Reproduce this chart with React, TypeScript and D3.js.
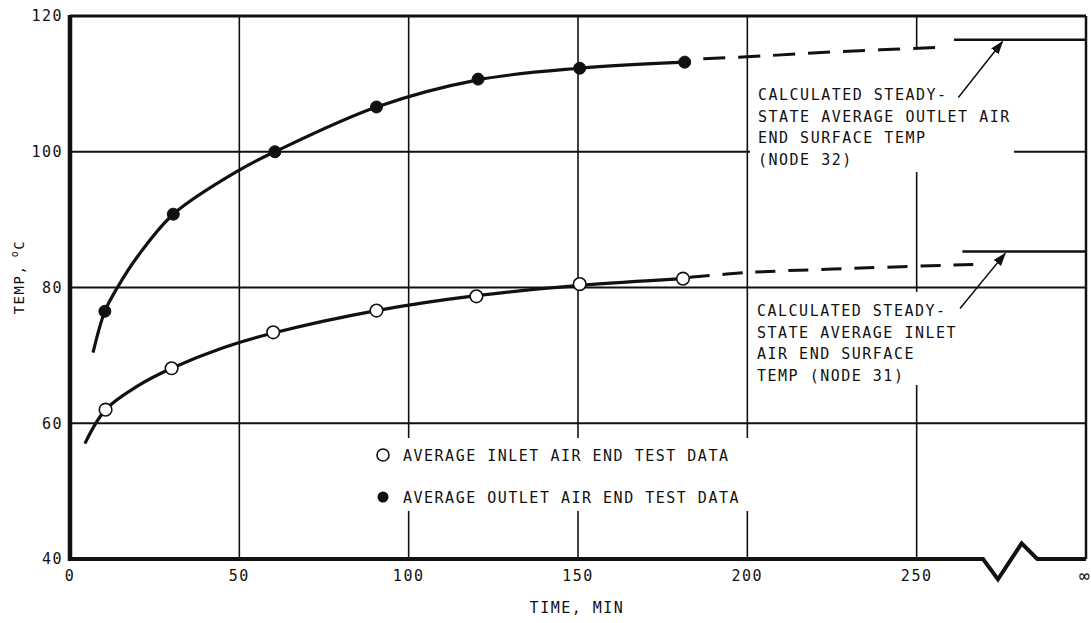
import * as d3 from 'd3';

// test data (time in min, temperature in °C)
const inletTimes = [10.5, 30, 60, 90.5, 120, 150.5, 181];
const inletTemps = [62.0, 68.1, 73.4, 76.6, 78.7, 80.5, 81.3];
const outletTimes = [10.3, 30.5, 60.5, 90.5, 120.5, 150.5, 181.5];
const outletTemps = [76.5, 90.8, 100.0, 106.6, 110.7, 112.3, 113.2];

// hand-drawn fit curves (knots)
const inletCurveT = [4.4, 10.5, 20, 30, 45, 60, 90.5, 120, 150.5, 181];
const inletCurveV = [57.0, 62.0, 65.5, 68.1, 71.1, 73.3, 76.6, 78.8, 80.3, 81.3];
const outletCurveT = [6.8, 10.3, 14, 20, 30.5, 50, 60.5, 90.5, 120.5, 150.5, 181.5];
const outletCurveV = [70.4, 76.5, 80.0, 84.6, 90.8, 97.3, 100.0, 106.6, 110.6, 112.3, 113.2];

// dashed extrapolation towards steady state
const inletExtT = [183, 200, 230, 266.7];
const inletExtV = [81.5, 82.2, 82.8, 83.4];
const outletExtT = [187, 204, 225, 257.5];
const outletExtV = [113.7, 114.1, 114.7, 115.4];

// calculated steady-state values
const outletSteady = { from: 261, to: 300, value: 116.5 };
const inletSteady = { from: 263.5, to: 300, value: 85.3 };

const xTicks = [0, 50, 100, 150, 200, 250];
const yTicks = [40, 60, 80, 100, 120];
const xGrid = [50, 100, 150, 200, 250];
const yGrid = [60, 80, 100];

// axis break (time, temp)
const breakT = [0, 269.6, 274, 281, 285.6, 300];
const breakV = [40, 40, 37.0, 42.3, 40, 40];

const outletNote = ['CALCULATED STEADY-', 'STATE AVERAGE OUTLET AIR', 'END SURFACE TEMP', '(NODE 32)'];
const inletNote = ['CALCULATED STEADY-', 'STATE AVERAGE INLET', 'AIR END SURFACE', 'TEMP (NODE 31)'];
const legendLabels = ['AVERAGE INLET AIR END TEST DATA', 'AVERAGE OUTLET AIR END TEST DATA'];

const W = 1091;
const H = 623;
const FONT = '"DejaVu Sans Mono", monospace';
const INK = '#111';

export default function App() {
  const x = d3.scaleLinear().domain([0, 300]).range([70, 1086]);
  const y = d3.scaleLinear().domain([40, 120]).range([559, 16]);

  const line = d3.line<[number, number]>()
    .x(d => x(d[0]))
    .y(d => y(d[1]))
    .curve(d3.curveCatmullRom.alpha(0.5));
  const straight = d3.line<[number, number]>().x(d => x(d[0])).y(d => y(d[1]));

  const zip = (a: number[], b: number[]) => a.map((v, i) => [v, b[i]] as [number, number]);

  const textStyle = { fontFamily: FONT, fontSize: 15, fill: INK, letterSpacing: 1.5 };

  return (
    <div style={{ position: 'fixed', left: 0, top: 0, background: '#fff' }}>
      <svg width={W} height={H} viewBox={`0 0 ${W} ${H}`}>
        <defs>
          <marker id="arrow" viewBox="0 0 10 10" refX="9" refY="5" markerWidth="9" markerHeight="9" orient="auto">
            <path d="M0,1.5 L10,5 L0,8.5 Z" fill={INK} />
          </marker>
        </defs>
        <rect width={W} height={H} fill="#fff" />

        {/* grid */}
        {xGrid.map(t => (
          <line key={'gx' + t} x1={x(t)} x2={x(t)} y1={y(120)} y2={y(40)} stroke={INK} strokeWidth={1.6} />
        ))}
        {yGrid.map(v => (
          <line key={'gy' + v} x1={x(0)} x2={x(300)} y1={y(v)} y2={y(v)} stroke={INK} strokeWidth={1.8} />
        ))}

        {/* white backgrounds behind notes and legend */}
        <rect x={750} y={48} width={264} height={124} fill="#fff" />
        <rect x={750} y={292} width={250} height={93} fill="#fff" />
        <rect x={372} y={438} width={388} height={73} fill="#fff" />

        {/* frame */}
        <line x1={x(0)} x2={x(300)} y1={y(120)} y2={y(120)} stroke={INK} strokeWidth={3} />
        <line x1={x(300)} x2={x(300)} y1={y(120)} y2={y(40)} stroke={INK} strokeWidth={2.5} />
        <line x1={x(0)} x2={x(0)} y1={y(120) - 1} y2={y(40) + 2} stroke={INK} strokeWidth={4.5} />
        <path d={straight(zip(breakT, breakV)) || ''} fill="none" stroke={INK} strokeWidth={4} strokeLinejoin="miter" />

        {/* tick labels */}
        {yTicks.map(v => (
          <text key={'yt' + v} x={63} y={y(v)} dy="0.36em" textAnchor="end" style={textStyle}>{v}</text>
        ))}
        {xTicks.map(t => (
          <text key={'xt' + t} x={x(t)} y={576} dy="0.36em" textAnchor="middle" style={textStyle}>{t}</text>
        ))}
        <text x={1079} y={576} dy="0.36em" style={{ ...textStyle, fontSize: 18 }}>∞</text>

        {/* axis titles */}
        <text x={577} y={608} dy="0.36em" textAnchor="middle" style={textStyle}>TIME, MIN</text>
        <text transform="translate(24,277) rotate(-90)" textAnchor="middle" style={{ ...textStyle, fontSize: 14 }}>
          TEMP,
          <tspan dy={-6} fontSize={10}> o</tspan>
          <tspan dy={6}>C</tspan>
        </text>

        {/* fitted curves */}
        <path d={line(zip(outletCurveT, outletCurveV)) || ''} fill="none" stroke={INK} strokeWidth={3.2} />
        <path d={line(zip(inletCurveT, inletCurveV)) || ''} fill="none" stroke={INK} strokeWidth={3.2} />
        <path d={line(zip(outletExtT, outletExtV)) || ''} fill="none" stroke={INK} strokeWidth={3} strokeDasharray="22 13" />
        <path d={line(zip(inletExtT, inletExtV)) || ''} fill="none" stroke={INK} strokeWidth={3} strokeDasharray="20 13" />

        {/* steady-state lines */}
        {[outletSteady, inletSteady].map((s, i) => (
          <line key={'ss' + i} x1={x(s.from)} x2={x(s.to)} y1={y(s.value)} y2={y(s.value)} stroke={INK} strokeWidth={2.6} />
        ))}

        {/* data points */}
        {outletTimes.map((t, i) => (
          <circle key={'o' + i} cx={x(t)} cy={y(outletTemps[i])} r={6} fill={INK} stroke={INK} strokeWidth={1} />
        ))}
        {inletTimes.map((t, i) => (
          <circle key={'i' + i} cx={x(t)} cy={y(inletTemps[i])} r={6.3} fill="#fff" stroke={INK} strokeWidth={1.6} />
        ))}

        {/* notes */}
        {outletNote.map((s, i) => (
          <text key={'on' + i} x={758} y={100 + i * 21.5} style={textStyle}>{s}</text>
        ))}
        {inletNote.map((s, i) => (
          <text key={'in' + i} x={757} y={316 + i * 21.5} style={textStyle}>{s}</text>
        ))}
        <line x1={x(262.3)} y1={y(108.0)} x2={x(275.3)} y2={y(116.2)} stroke={INK} strokeWidth={1.5} markerEnd="url(#arrow)" />
        <line x1={x(262.8)} y1={y(76.9)} x2={x(276.1)} y2={y(85.0)} stroke={INK} strokeWidth={1.5} markerEnd="url(#arrow)" />

        {/* legend */}
        <circle cx={383} cy={455} r={6} fill="#fff" stroke={INK} strokeWidth={1.6} />
        <text x={403} y={461} style={textStyle}>{legendLabels[0]}</text>
        <circle cx={383} cy={497} r={5.5} fill={INK} />
        <text x={403} y={503} style={textStyle}>{legendLabels[1]}</text>
      </svg>
    </div>
  );
}
